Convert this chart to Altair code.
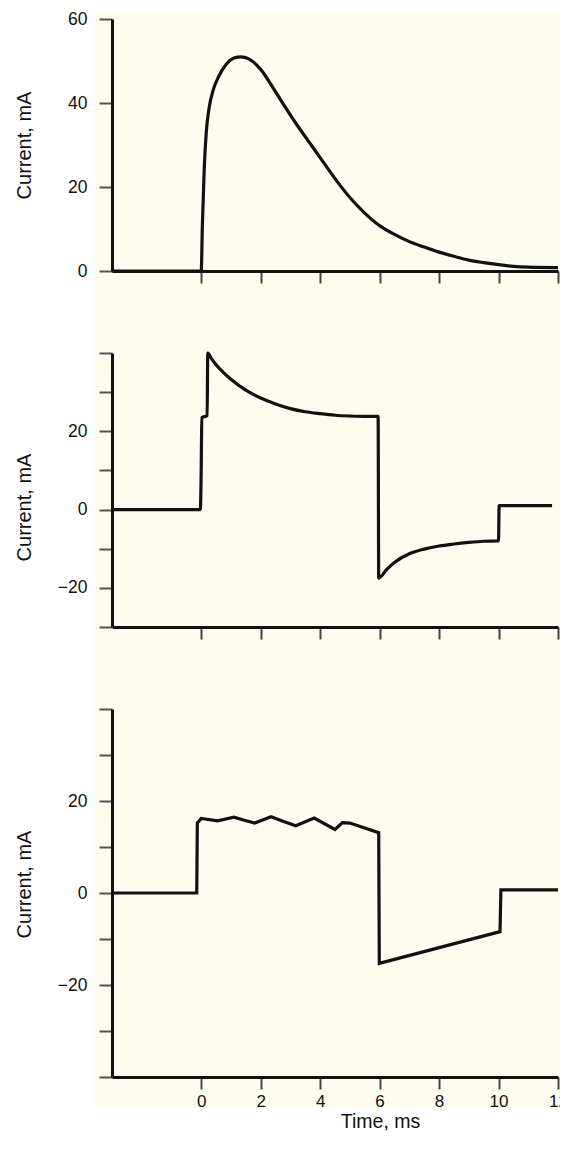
import altair as alt
import pandas as pd

# ---------------- data ----------------
x_ticks = [0, 2, 4, 6, 8, 10, 12]

# Panel A: monophasic pulse
time_a = [-3, 0, 0.04, 0.1, 0.17, 0.27, 0.4, 0.6, 0.85, 1.1, 1.33, 1.6, 2.0,
          2.4, 2.8, 3.2, 3.6, 4.0, 4.5, 5.0, 5.5, 6.0, 6.5, 7.0, 7.5, 8.0,
          8.5, 9.0, 9.5, 10.0, 10.5, 11.0, 12.0]
current_a = [0, 0, 11, 24, 33, 39, 43, 46.5, 49.3, 50.7, 51, 50.5, 48,
             43.8, 39.3, 35, 31, 27, 22, 17.5, 13.8, 10.8, 8.7, 7.0, 5.7, 4.5,
             3.5, 2.6, 2.0, 1.5, 1.1, 0.9, 0.8]
yticks_a = [0, 20, 40, 60]
ylabels_a = [0, 20, 40, 60]

# Panel B: biphasic truncated exponential
time_b = [-3, -0.03, 0.0, 0.02, 0.2, 0.22, 0.35, 0.5, 0.75, 1.0, 1.5, 2.0,
          2.5, 3.0, 3.5, 4.0, 4.5, 5.0, 5.5, 5.95, 5.97, 6.25, 6.5, 7.0, 7.5,
          8.0, 8.5, 9.0, 9.5, 10.0, 10.02, 11.8]
current_b = [0, 0, 10, 23.5, 24, 40, 38.5, 37, 35, 33.3, 30.5, 28.5,
             27, 25.8, 25, 24.5, 24.1, 23.9, 23.8, 23.8, -17.5, -15.2, -13.5,
             -11.3, -10.1, -9.3, -8.8, -8.4, -8.1, -8.0, 1, 1]
yticks_b = [-30, -20, -10, 0, 10, 20, 30, 40]
ylabels_b = [-20, 0, 20]

# Panel C: rectilinear biphasic
time_c = [-3, -0.15, -0.13, 0.0, 0.55, 1.1, 1.45, 1.8, 2.35, 2.75, 3.18,
          3.8, 4.5, 4.75, 5.0, 5.97, 5.99, 10.05, 10.08, 12.0]
current_c = [0, 0, 15.2, 16.2, 15.7, 16.5, 15.8, 15.2, 16.6, 15.6, 14.6,
             16.3, 13.8, 15.3, 15.2, 13.1, -15.3, -8.4, 0.7, 0.7]
yticks_c = [-40, -30, -20, -10, 0, 10, 20, 30, 40]
ylabels_c = [-20, 0, 20]

# ---------------- style ----------------
CREAM = "#FEFCEE"
INK = "#111111"
FONT = "Liberation Sans"
W = 446
GAP = 82


def panel(t, cur, ydom, yticks, ylabels, h, title_y, bg_top, bg_bottom,
          bottom_panel, interp):
    df = pd.DataFrame({"t": t, "i": cur, "k": list(range(len(t)))})
    label_test = " || ".join(f"datum.value == {v}" for v in ylabels)

    x_axis_kw = dict(values=x_ticks, tickSize=12, tickWidth=2, tickColor="#444",
                     domainWidth=3, domainColor=INK, grid=False, zindex=1,
                     labelFlush=False, labelOverlap=False)
    if bottom_panel:
        x_axis_kw.update(labels=True, labelFont=FONT, labelFontSize=17,
                         labelColor=INK, labelPadding=4,
                         title="Time, ms", titleFont=FONT, titleFontSize=19.5,
                         titleFontWeight="normal", titleColor=INK,
                         titleX=268, titleY=50, titleBaseline="alphabetic",
                         titleAlign="center")
    else:
        x_axis_kw.update(labels=False, title="")

    y_axis = alt.Axis(values=yticks, tickSize=13, tickWidth=2, tickColor="#555",
                      domainWidth=3, domainColor=INK, grid=False, zindex=1,
                      labelFont=FONT, labelFontSize=17.5, labelColor=INK,
                      labelPadding=12, labelExpr=f"({label_test}) ? datum.label : ''",
                      title="Current, mA", titleFont=FONT, titleFontSize=20,
                      titleFontWeight="normal", titleColor=INK, titleAngle=270,
                      titleX=-82, titleY=title_y, titleBaseline="alphabetic")

    bg = alt.Chart(alt.Data(values=[{}])).mark_rect(color=CREAM).encode(
        x=alt.value(-17), x2=alt.value(W + 10),
        y=alt.value(bg_top), y2=alt.value(h + bg_bottom))

    line = alt.Chart(df).mark_line(color=INK, strokeWidth=3.2, strokeJoin="miter",
                                   interpolate=interp).encode(
        x=alt.X("t:Q", scale=alt.Scale(domain=[-3, 12], nice=False, zero=False),
                axis=alt.Axis(**x_axis_kw)),
        y=alt.Y("i:Q", scale=alt.Scale(domain=ydom, nice=False, zero=False),
                axis=y_axis),
        order="k:Q")
    return alt.layer(bg, line).properties(width=W, height=h)


p1 = panel(time_a, current_a, [0, 60], yticks_a, ylabels_a, 252, 126, -7, GAP + 1,
           False, "monotone")
p2 = panel(time_b, current_b, [-30, 40], yticks_b, ylabels_b, 274, 154, 0, GAP + 1,
           False, "monotone")
p3 = panel(time_c, current_c, [-40, 40], yticks_c, ylabels_c, 368, 175, 0, 31,
           True, "linear")

chart = alt.vconcat(p1, p2, p3, spacing=GAP, bounds="flush").properties(
    padding={"top": 2, "left": 6, "right": -8, "bottom": 0},
    background="white",
).configure_view(strokeWidth=0)

chart.save("out.html", embed_options={"renderer": "svg", "actions": False})
